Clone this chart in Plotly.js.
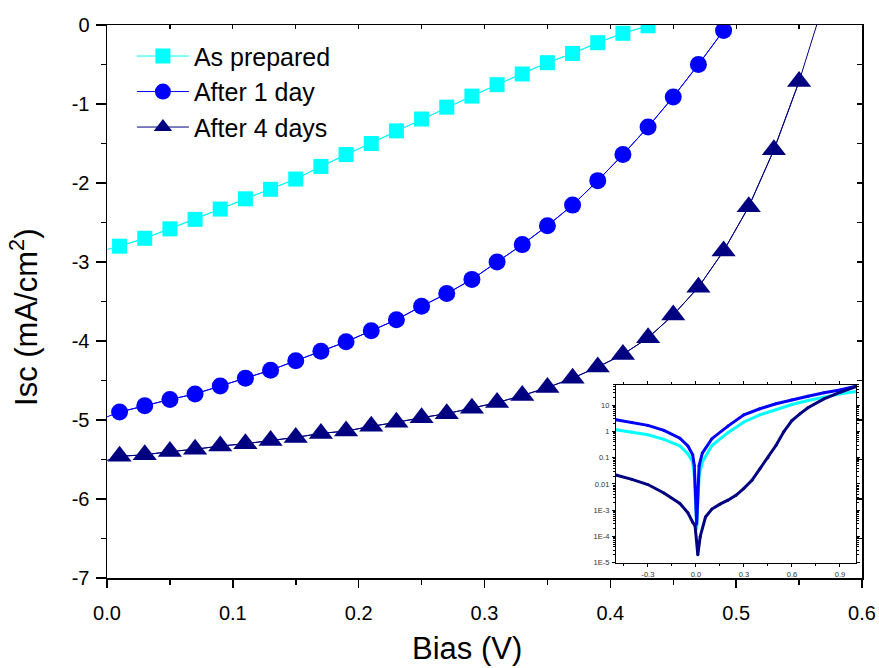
<!DOCTYPE html>
<html>
<head>
<meta charset="utf-8">
<script src="https://cdn.plot.ly/plotly-3.0.1.min.js"></script>
<style>html,body{margin:0;padding:0;background:#fff;}#chart{width:879px;height:668px;}</style>
</head>
<body>
<div id="chart"></div>
<script>
// ---- Main plot data (Bias in V, Isc in mA/cm^2) ----
const biasPrepared = [0.01,0.03,0.05,0.07,0.09,0.11,0.13,0.15,0.17,0.19,0.21,0.23,0.25,0.27,0.29,0.31,0.33,0.35,0.37,0.39,0.41,0.43];
const iscPrepared  = [-2.80,-2.70,-2.58,-2.46,-2.33,-2.20,-2.08,-1.95,-1.79,-1.64,-1.50,-1.34,-1.19,-1.04,-0.90,-0.755,-0.62,-0.477,-0.36,-0.224,-0.105,-0.01];

const biasDay1 = [0.01,0.03,0.05,0.07,0.09,0.11,0.13,0.15,0.17,0.19,0.21,0.23,0.25,0.27,0.29,0.31,0.33,0.35,0.37,0.39,0.41,0.43,0.45,0.47,0.49];
const iscDay1  = [-4.90,-4.82,-4.74,-4.67,-4.57,-4.47,-4.37,-4.25,-4.13,-4.01,-3.87,-3.73,-3.56,-3.40,-3.22,-3.00,-2.78,-2.54,-2.28,-1.97,-1.64,-1.29,-0.91,-0.50,-0.07];

const biasDay4 = [0.01,0.03,0.05,0.07,0.09,0.11,0.13,0.15,0.17,0.19,0.21,0.23,0.25,0.27,0.29,0.31,0.33,0.35,0.37,0.39,0.41,0.43,0.45,0.47,0.49,0.51,0.53,0.55];
const iscDay4  = [-5.46,-5.44,-5.40,-5.37,-5.33,-5.30,-5.26,-5.22,-5.17,-5.14,-5.08,-5.03,-4.97,-4.92,-4.85,-4.78,-4.69,-4.59,-4.47,-4.33,-4.17,-3.96,-3.67,-3.32,-2.86,-2.30,-1.58,-0.715];

// line ends (curve continues past the symbols)
const lineStartBias = 0.0;
const lineStartIsc  = [-2.84, -4.96, -5.51];   // prepared, day1, day4
const day4EndBias = 0.564, day4EndIsc = 0.0;

const seriesNames = ["As prepared", "After 1 day", "After 4 days"];

// ---- Inset data (log |I| vs bias) ----
const insetBiasPrepared = [-0.5,-0.4,-0.3,-0.2,-0.1,-0.05,-0.02,-0.01,0.005,0.02,0.04,0.1,0.2,0.3,0.4,0.5,0.6,0.7,0.8,0.9,1.0];
const insetIPrepared    = [1.15,0.95,0.75,0.5,0.28,0.14,0.068,0.022,0.0002,0.022,0.068,0.29,0.9,2.3,4.3,6.7,10.6,15,20,27,33];

const insetBiasDay1 = [-0.5,-0.4,-0.3,-0.2,-0.1,-0.05,-0.02,-0.01,0.005,0.02,0.04,0.1,0.2,0.3,0.4,0.5,0.6,0.7,0.8,0.9,1.0];
const insetIDay1    = [2.8,2.2,1.7,1.1,0.55,0.28,0.13,0.05,0.0003,0.05,0.15,0.53,1.6,4.3,7.3,11.3,16,22,29.6,38,53];

const insetBiasDay4 = [-0.5,-0.4,-0.3,-0.2,-0.1,-0.05,-0.02,-0.005,0.012,0.027,0.06,0.1,0.15,0.2,0.25,0.3,0.35,0.4,0.45,0.5,0.55,0.6,0.65,0.7,0.8,0.9,1.0];
const insetIDay4    = [0.022,0.015,0.0095,0.0045,0.0018,0.0008,0.00035,0.00025,0.00002,0.0001,0.00055,0.0011,0.0017,0.0024,0.0037,0.0068,0.0138,0.038,0.1,0.29,1.0,2.6,4.7,8,17.5,31,51];

// ---- Tick labels ----
const xTickVals = [0,0.1,0.2,0.3,0.4,0.5,0.6];
const xTickText = ["0.0","0.1","0.2","0.3","0.4","0.5","0.6"];
const yTickVals = [-7,-6,-5,-4,-3,-2,-1,0];
const yTickText = ["-7","-6","-5","-4","-3","-2","-1","0"];
const insetXTickVals = [-0.3,0,0.3,0.6,0.9];
const insetXTickText = ["-0.3","0.0","0.3","0.6","0.9"];
const insetYTickVals = [1e-5,1e-4,1e-3,0.01,0.1,1,10];
const insetYTickText = ["1E-5","1E-4","1E-3","0.01","0.1","1","10"];

const colors = ["#00FFFF", "#0000FF", "#000080"];
const symbols = ["square", "circle", "triangle-up"];
const sizes = [15, 17, 21];
const FONT = "Arial, 'Liberation Sans', Helvetica, sans-serif";

const mainX = [biasPrepared, biasDay1, biasDay4];
const mainY = [iscPrepared, iscDay1, iscDay4];

const traces = [];
for (let i = 0; i < 3; i++) {
  let lx = [lineStartBias].concat(mainX[i]);
  let ly = [lineStartIsc[i]].concat(mainY[i]);
  if (i === 2) { lx = lx.concat([day4EndBias]); ly = ly.concat([day4EndIsc]); }
  traces.push({
    x: lx, y: ly, mode: "lines", showlegend: false, hoverinfo: "skip",
    line: {color: colors[i], width: 1}, xaxis: "x", yaxis: "y"
  });
}
for (let i = 0; i < 3; i++) {
  traces.push({
    x: mainX[i], y: mainY[i], name: seriesNames[i], mode: "lines+markers",
    line: {color: colors[i], width: 1},
    marker: {symbol: symbols[i], size: sizes[i], color: colors[i], line: {width: 0}},
    xaxis: "x", yaxis: "y"
  });
}
// invisible helper so the mirrored top/right axes (inside ticks) are drawn
traces.push({
  x: biasPrepared, y: iscPrepared, mode: "lines", opacity: 0, showlegend: false,
  hoverinfo: "skip", line: {width: 1, color: "#fff"}, xaxis: "x3", yaxis: "y3"
});
const insetX = [insetBiasPrepared, insetBiasDay1, insetBiasDay4];
const insetY = [insetIPrepared, insetIDay1, insetIDay4];
for (let i = 0; i < 3; i++) {
  traces.push({
    x: insetX[i], y: insetY[i], mode: "lines+markers", showlegend: false,
    line: {color: colors[i], width: 3},
    marker: {size: 3, color: colors[i]},
    xaxis: "x2", yaxis: "y2"
  });
}

const axisCommon = {
  showline: true, linecolor: "#000", linewidth: 1.5, zeroline: false, showgrid: false,
  tickcolor: "#000", tickwidth: 1.5, tickfont: {family: FONT, size: 20, color: "#000"}
};

const layout = {
  width: 879, height: 668,
  margin: {l: 107, r: 17, t: 25, b: 90},
  paper_bgcolor: "#fff", plot_bgcolor: "#fff",
  font: {family: FONT, color: "#000"},
  showlegend: true,
  legend: {
    x: 0.033, y: 0.985, xanchor: "left", yanchor: "top",
    bgcolor: "rgba(0,0,0,0)", borderwidth: 0,
    font: {family: FONT, size: 25, color: "#000"},
    itemwidth: 52, tracegroupgap: 0
  },
  xaxis: Object.assign({}, axisCommon, {
    range: [0, 0.6], tickmode: "array", tickvals: xTickVals, ticktext: xTickText,
    ticks: "outside", ticklen: 8, ticklabelstandoff: 8,
    minor: {dtick: 0.05, ticks: "outside", ticklen: 5, tickcolor: "#000", tickwidth: 1.5, showgrid: false},
    anchor: "y", domain: [0, 1]
  }),
  yaxis: Object.assign({}, axisCommon, {
    range: [-7, 0], tickmode: "array", tickvals: yTickVals, ticktext: yTickText,
    ticks: "outside", ticklen: 10, ticklabelstandoff: 2,
    minor: {dtick: 0.5, ticks: "outside", ticklen: 5, tickcolor: "#000", tickwidth: 1.5, showgrid: false},
    anchor: "x", domain: [0, 1]
  }),
  xaxis3: {
    overlaying: "x", side: "top", anchor: "y3", range: [0, 0.6],
    showline: true, linecolor: "#000", linewidth: 1.5, showgrid: false, zeroline: false,
    ticks: "inside", dtick: 0.05, ticklen: 4, tickcolor: "#000", tickwidth: 1.2, showticklabels: false
  },
  yaxis3: {
    overlaying: "y", side: "right", anchor: "x3", range: [-7, 0],
    showline: true, linecolor: "#000", linewidth: 1.5, showgrid: false, zeroline: false,
    ticks: "inside", dtick: 0.5, ticklen: 5, tickcolor: "#000", tickwidth: 1.2, showticklabels: false
  },
  xaxis2: {
    domain: [0.674, 0.992], anchor: "y2", range: [-0.5, 1.0],
    showline: true, mirror: "ticks", linecolor: "#000", linewidth: 1, showgrid: false, zeroline: false,
    tickmode: "array", tickvals: insetXTickVals, ticktext: insetXTickText,
    ticks: "outside", ticklen: 3, tickcolor: "#000", tickwidth: 1,
    minor: {tickvals: [-0.45,-0.15,0.15,0.45,0.75], ticks: "outside", ticklen: 2, tickcolor: "#000"},
    tickfont: {family: FONT, size: 7.5, color: "#333"}, ticklabelstandoff: 1
  },
  yaxis2: {
    domain: [0.0277, 0.3495], anchor: "x2", type: "log", range: [-5, 1.78],
    showline: true, mirror: "ticks", linecolor: "#000", linewidth: 1, showgrid: false, zeroline: false,
    tickmode: "array", tickvals: insetYTickVals, ticktext: insetYTickText,
    ticks: "outside", ticklen: 3, tickcolor: "#000", tickwidth: 1,
    minor: {dtick: "D1", ticks: "outside", ticklen: 2, tickcolor: "#000"},
    tickfont: {family: FONT, size: 7.5, color: "#333"}, ticklabelstandoff: 1
  },
  annotations: [
    {text: "Bias (V)", xref: "paper", yref: "paper", x: 0.4768, y: -0.128,
     xanchor: "center", yanchor: "middle", showarrow: false,
     font: {family: FONT, size: 31, color: "#000"}},
    {text: "Isc (mA/cm<sup>2</sup>)", xref: "paper", yref: "paper", x: -0.11, y: 0.472,
     xanchor: "center", yanchor: "middle", showarrow: false, textangle: -90,
     font: {family: FONT, size: 31, color: "#000"}}
  ]
};

Plotly.newPlot("chart", traces, layout, {displayModeBar: false, staticPlot: true});
</script>
</body>
</html>
